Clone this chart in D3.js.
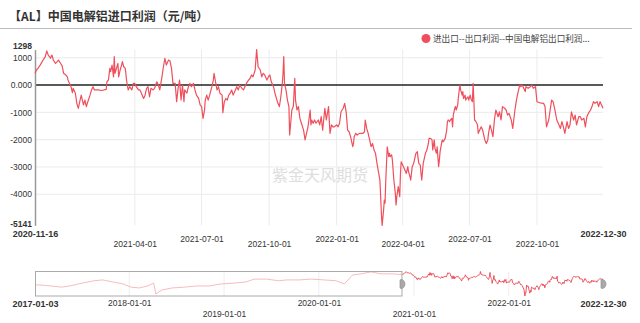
<!DOCTYPE html>
<html>
<head>
<meta charset="utf-8">
<script src="https://cdn.jsdelivr.net/npm/d3@7/dist/d3.min.js"></script>
<style>
  html, body { margin: 0; padding: 0; background: #fff; }
  svg { display: block; }
  .lab { font-family: "Liberation Sans", Arial, sans-serif; fill: #333; }
  .cjk { font-family: "Noto Sans CJK SC", sans-serif; }
</style>
</head>
<body>
<svg id="chart" width="640" height="323"></svg>
<script>
// main series: 2020-11-16 .. 2022-12-30 (yuan/ton)
var dates = [
  "2020-11-16","2020-11-18","2020-11-20","2020-11-23","2020-11-25","2020-11-27","2020-11-30","2020-12-02","2020-12-04","2020-12-07",
  "2020-12-09","2020-12-11","2020-12-14","2020-12-16","2020-12-18","2020-12-21","2020-12-23","2020-12-25","2020-12-28","2020-12-30",
  "2020-12-31","2021-01-04","2021-01-06","2021-01-07","2021-01-10","2021-01-12","2021-01-14","2021-01-16","2021-01-18","2021-01-21",
  "2021-01-23","2021-01-25","2021-01-27","2021-01-30","2021-02-01","2021-02-03","2021-02-05","2021-02-10","2021-02-15","2021-02-21",
  "2021-02-22","2021-02-24","2021-02-26","2021-02-27","2021-03-01","2021-03-03","2021-03-04","2021-03-05","2021-03-07","2021-03-09",
  "2021-03-10","2021-03-12","2021-03-14","2021-03-15","2021-03-17","2021-03-19","2021-03-21","2021-03-23","2021-03-25","2021-03-28",
  "2021-03-30","2021-04-01","2021-04-03","2021-04-06","2021-04-08","2021-04-10","2021-04-13","2021-04-15","2021-04-17","2021-04-19",
  "2021-04-21","2021-04-23","2021-04-26","2021-04-28","2021-05-01","2021-05-03","2021-05-05","2021-05-08","2021-05-10","2021-05-12",
  "2021-05-14","2021-05-17","2021-05-19","2021-05-21","2021-05-23","2021-05-26","2021-05-28","2021-05-30","2021-06-01","2021-06-03",
  "2021-06-05","2021-06-07","2021-06-08","2021-06-11","2021-06-13","2021-06-15","2021-06-17","2021-06-20","2021-06-22","2021-06-24",
  "2021-06-27","2021-06-29","2021-07-01","2021-07-03","2021-07-05","2021-07-06","2021-07-08","2021-07-10","2021-07-12","2021-07-15",
  "2021-07-17","2021-07-18","2021-07-20","2021-07-22","2021-07-24","2021-07-26","2021-07-29","2021-07-30","2021-08-01","2021-08-03",
  "2021-08-05","2021-08-07","2021-08-09","2021-08-11","2021-08-13","2021-08-16","2021-08-18","2021-08-20","2021-08-22","2021-08-25",
  "2021-08-27","2021-08-29","2021-08-31","2021-09-03","2021-09-05","2021-09-07","2021-09-09","2021-09-12","2021-09-14","2021-09-16",
  "2021-09-19","2021-09-21","2021-09-23","2021-09-25","2021-09-28","2021-09-30","2021-10-02","2021-10-04","2021-10-07","2021-10-09",
  "2021-10-11","2021-10-13","2021-10-15","2021-10-17","2021-10-19","2021-10-20","2021-10-21","2021-10-22","2021-10-24","2021-10-26",
  "2021-10-28","2021-10-29","2021-11-01","2021-11-03","2021-11-05","2021-11-06","2021-11-08","2021-11-10","2021-11-12","2021-11-14",
  "2021-11-17","2021-11-19","2021-11-21","2021-11-23","2021-11-26","2021-11-27","2021-11-28","2021-11-30","2021-12-02","2021-12-04",
  "2021-12-07","2021-12-09","2021-12-11","2021-12-13","2021-12-16","2021-12-18","2021-12-21","2021-12-23","2021-12-25","2021-12-27",
  "2021-12-29","2022-01-01","2022-01-03","2022-01-05","2022-01-07","2022-01-10","2022-01-12","2022-01-14","2022-01-16","2022-01-18",
  "2022-01-20","2022-01-23","2022-01-24","2022-01-25","2022-01-27","2022-01-29","2022-02-01","2022-02-06","2022-02-08","2022-02-09",
  "2022-02-11","2022-02-13","2022-02-15","2022-02-17","2022-02-19","2022-02-21","2022-02-23","2022-02-25","2022-03-01","2022-03-03",
  "2022-03-04","2022-03-06","2022-03-07","2022-03-08","2022-03-09","2022-03-11","2022-03-13","2022-03-14","2022-03-15","2022-03-17",
  "2022-03-18","2022-03-20","2022-03-22","2022-03-23","2022-03-24","2022-03-26","2022-03-28","2022-03-29","2022-03-30","2022-04-01",
  "2022-04-03","2022-04-04","2022-04-06","2022-04-08","2022-04-09","2022-04-11","2022-04-12","2022-04-14","2022-04-16","2022-04-17",
  "2022-04-19","2022-04-21","2022-04-22","2022-04-23","2022-04-25","2022-04-26","2022-04-27","2022-04-29","2022-04-30","2022-05-02",
  "2022-05-04","2022-05-06","2022-05-07","2022-05-09","2022-05-11","2022-05-12","2022-05-14","2022-05-15","2022-05-17","2022-05-18",
  "2022-05-20","2022-05-21","2022-05-22","2022-05-24","2022-05-25","2022-05-26","2022-05-28","2022-05-29","2022-05-31","2022-06-01",
  "2022-06-02","2022-06-04","2022-06-05","2022-06-07","2022-06-08","2022-06-09","2022-06-11","2022-06-12","2022-06-13","2022-06-15",
  "2022-06-16","2022-06-18","2022-06-19","2022-06-21","2022-06-22","2022-06-23","2022-06-25","2022-06-26","2022-06-27","2022-06-29",
  "2022-06-30","2022-07-02","2022-07-03","2022-07-05","2022-07-06","2022-07-07","2022-07-08","2022-07-10","2022-07-12","2022-07-13",
  "2022-07-15","2022-07-17","2022-07-19","2022-07-21","2022-07-22","2022-07-24","2022-07-26","2022-07-27","2022-07-29","2022-07-31",
  "2022-08-02","2022-08-04","2022-08-06","2022-08-09","2022-08-11","2022-08-13","2022-08-15","2022-08-18","2022-08-20","2022-08-22",
  "2022-08-24","2022-08-27","2022-08-29","2022-09-01","2022-09-03","2022-09-05","2022-09-07","2022-09-08","2022-09-09","2022-09-11",
  "2022-09-13","2022-09-15","2022-09-16","2022-09-19","2022-09-22","2022-09-24","2022-09-26","2022-09-29","2022-10-01","2022-10-05",
  "2022-10-10","2022-10-12","2022-10-14","2022-10-17","2022-10-19","2022-10-21","2022-10-23","2022-10-26","2022-10-28","2022-10-30",
  "2022-11-02","2022-11-04","2022-11-06","2022-11-08","2022-11-11","2022-11-13","2022-11-15","2022-11-17","2022-11-20","2022-11-22",
  "2022-11-24","2022-11-27","2022-11-29","2022-12-01","2022-12-04","2022-12-06","2022-12-08","2022-12-10","2022-12-13","2022-12-15",
  "2022-12-17","2022-12-19","2022-12-22","2022-12-24","2022-12-26","2022-12-28","2022-12-30"
];
var profit = [
  430,550,610,730,820,915,1040,1250,1100,980,
  1100,915,790,850,915,790,700,430,370,300,
  180,-60,-280,-120,-300,-670,-855,-610,-370,-730,
  -550,-790,-610,-370,-180,-60,-180,-180,-200,-160,
  120,180,610,490,730,300,1040,430,610,790,
  300,550,730,855,670,610,120,-180,-60,-180,
  60,60,-60,-180,-180,-300,-490,-370,-120,-60,
  -430,-120,-180,-120,120,0,-180,300,670,980,
  730,915,880,610,60,60,-610,-120,180,-550,
  0,-610,-180,-300,-60,60,-60,60,-180,-370,
  -490,-730,-790,-1220,-920,-550,-370,-550,-370,-60,
  180,430,120,-180,-60,-300,-370,-1010,-610,-490,
  -550,-370,-300,-180,-370,-180,-60,-180,0,-120,
  -180,-60,60,180,240,370,300,550,1298,670,
  550,300,430,370,180,300,370,120,-60,-300,
  -490,-670,-790,-430,60,430,1040,60,-180,-550,
  -790,-1830,-915,-790,245,-550,-915,-790,-1220,-1400,
  -1650,-2010,-1770,-1530,-915,-1460,-1280,-1400,-1280,-1400,
  -1280,-1460,-1160,-1650,-850,-1280,-790,-1770,-1460,-1530,
  -1530,-1460,-1530,-1400,-980,-850,-670,-980,-1650,-1710,
  -1890,-2260,-2140,-1890,-1770,-1830,-1770,-1770,-1710,-1280,
  -1590,-1770,-2010,-2260,-2140,-2380,-2500,-2870,-3480,-4700,
  -5141,-4580,-4210,-4330,-3480,-2260,-2620,-2500,-2620,-2560,
  -2750,-3480,-3970,-4390,-4090,-3720,-4090,-3240,-2810,-2930,
  -3050,-3110,-3240,-2990,-3170,-3360,-3480,-2990,-2870,-2750,
  -2500,-2440,-2680,-2870,-2930,-3240,-3480,-2870,-2750,-2500,
  -2380,-2140,-1950,-1950,-2010,-2380,-2010,-2320,-2500,-2260,
  -2990,-2750,-2440,-2140,-2010,-2080,-2010,-1950,-1650,-1340,
  -1280,-1340,-1280,-1220,-1530,-1100,-850,-790,-915,-730,
  -430,0,-180,-370,-240,-490,-370,-550,-490,-430,
  -550,-370,-490,-610,60,-550,-1280,-1340,-1460,-1770,
  -1650,-1530,-1650,-1890,-2010,-2140,-2010,-1770,-1465,-1650,
  -1890,-1280,-915,-1160,-980,-1280,-790,-850,-915,-1100,
  -1040,-1280,-1590,-915,-550,-300,-60,0,-60,0,
  -120,-240,-60,-120,-60,0,-120,-60,-610,-650,
  -670,-790,-1530,-1280,-915,-550,-610,-980,-1280,-1400,
  -1590,-1340,-1530,-1770,-1340,-1590,-1460,-980,-1280,-1100,
  -1460,-1160,-1160,-1280,-1220,-1530,-1160,-1040,-915,-790,
  -610,-670,-610,-790,-610,-730,-850
];

// earlier history, only shown in the zoom slider
var histDates = [
  "2017-01-03","2017-02-20","2017-04-15","2017-05-17","2017-07-03","2017-08-19","2017-09-20","2017-10-29","2017-12-08","2018-01-08",
  "2018-02-09","2018-03-12","2018-04-05","2018-04-13","2018-05-07","2018-06-15","2018-08-01","2018-09-18","2018-11-04","2018-12-21",
  "2019-02-07","2019-03-26","2019-04-27","2019-06-13","2019-07-30","2019-08-31","2019-10-17","2019-12-04","2020-01-20","2020-03-07",
  "2020-04-08","2020-05-09","2020-06-10","2020-07-20","2020-08-28","2020-10-14","2020-11-13"
];
var histProfit = [
  -2180,-2400,-2815,-2499,-1759,-1126,-915,-1443,-1970,-2815,
  -3026,-2499,-1759,-4607,-3554,-3026,-2815,-2499,-2499,-1970,
  -1759,-1443,-703,-703,-1126,-915,-915,-703,-915,-1126,
  -1970,353,670,1195,670,670,500
];

var xTicks = ["2020-11-16","2021-04-01","2021-07-01","2021-10-01","2022-01-01","2022-04-01","2022-07-01","2022-10-01","2022-12-30"];
var yTicks = [1298, 1000, 0, -1000, -2000, -3000, -4000, -5141];
var navTicks = ["2017-01-03","2018-01-01","2019-01-01","2020-01-01","2021-01-01","2022-01-01","2022-12-30"];

var title = "【AL】中国电解铝进口利润（元/吨）";
var seriesName = "进出口--出口利润--中国电解铝出口利润...";
var watermark = "紫金天风期货";

var RED = "#ef4f5b";
var parse = d3.timeParse("%Y-%m-%d");
var data = dates.map(function (d, i) { return { date: parse(d), v: profit[i] }; });
var hist = histDates.map(function (d, i) { return { date: parse(d), v: histProfit[i] }; });

var svg = d3.select("#chart");

// title + separator
svg.append("text").attr("class", "cjk")
   .attr("x", 9).attr("y", 21)
   .attr("font-size", 12).attr("font-weight", "bold").attr("fill", "#333")
   .text(title);
svg.append("line").attr("x1", 0).attr("x2", 632).attr("y1", 28.5).attr("y2", 28.5)
   .attr("stroke", "#bbb").attr("stroke-width", 1);

// legend
svg.append("circle").attr("cx", 426).attr("cy", 38.5).attr("r", 4.5).attr("fill", RED);
svg.append("text").attr("class", "cjk")
   .attr("x", 433).attr("y", 41.5).attr("font-size", 8.6).attr("fill", "#444")
   .text(seriesName);

// scales
var x = d3.scaleTime().domain([parse("2020-11-16"), parse("2022-12-30")]).range([35, 603]);
var y = d3.scaleLinear().domain([-5141, 1298]).range([225.4, 49.6]);

// grid
svg.append("g").selectAll("line").data(yTicks.filter(function (t) { return t !== 0 && t !== 1298 && t !== -5141; }))
   .enter().append("line")
   .attr("x1", 35).attr("x2", 603)
   .attr("y1", function (d) { return y(d); }).attr("y2", function (d) { return y(d); })
   .attr("stroke", "#ebebeb").attr("stroke-width", 1);
svg.append("g").selectAll("line").data(xTicks.slice(1, -1))
   .enter().append("line")
   .attr("x1", function (d) { return x(parse(d)); }).attr("x2", function (d) { return x(parse(d)); })
   .attr("y1", 49.6).attr("y2", 225.4)
   .attr("stroke", "#ebebeb").attr("stroke-width", 1);

// watermark
svg.append("text").attr("class", "cjk")
   .attr("x", 320).attr("y", 181).attr("text-anchor", "middle")
   .attr("font-size", 16).attr("fill", "#dedede")
   .text(watermark);

// zero line
svg.append("line").attr("x1", 35).attr("x2", 603).attr("y1", y(0)).attr("y2", y(0))
   .attr("stroke", "#222").attr("stroke-width", 1.5);

// y axis (min / max labels nudged apart from their neighbours)
var yAxis = svg.append("g").attr("transform", "translate(35,0)")
   .call(d3.axisLeft(y).tickValues(yTicks).tickSize(0).tickPadding(3)
     .tickFormat(function (d) { return d === 0 ? "0.000" : String(d); }));
yAxis.select(".domain").attr("stroke", "#999").attr("stroke-width", 1.5);
yAxis.selectAll("text").attr("class", "lab").attr("font-size", 8.5)
   .attr("font-weight", function (d) { return (d === 1298 || d === -5141) ? "bold" : "normal"; })
   .attr("dy", function (d) { return d === 1298 ? "-0.1em" : d === -5141 ? "0.15em" : "0.32em"; });

// x axis with staggered labels
var xAxis = svg.append("g").attr("transform", "translate(0,225.4)")
   .call(d3.axisBottom(x).tickValues(xTicks.map(parse)).tickSize(0).tickPadding(0)
     .tickFormat(d3.timeFormat("%Y-%m-%d")));
xAxis.select(".domain").remove();
xAxis.selectAll("text").attr("class", "lab")
   .attr("dy", "0.35em")
   .attr("font-size", function (d, i) { return (i === 0 || i === xTicks.length - 1) ? 9 : 8.5; })
   .attr("font-weight", function (d, i) { return (i === 0 || i === xTicks.length - 1) ? "bold" : "normal"; })
   .attr("y", function (d, i) {
     if (i === 0 || i === xTicks.length - 1) return 8;
     return i % 2 === 1 ? 19 : 13.5;
   });

// series line
var line = d3.line().x(function (d) { return x(d.date); }).y(function (d) { return y(d.v); });
svg.append("path").datum(data).attr("d", line)
   .attr("fill", "none").attr("stroke", RED).attr("stroke-width", 1.2).attr("stroke-linejoin", "round");

// ---- zoom slider ----
var nx = d3.scaleTime().domain([parse("2017-01-03"), parse("2022-12-30")]).range([35, 603]);
var ny = d3.scaleLinear().domain([-5141, 1298]).range([296, 271.5]);

svg.append("g").selectAll("line").data(navTicks.slice(1, -1))
   .enter().append("line")
   .attr("x1", function (d) { return nx(parse(d)); }).attr("x2", function (d) { return nx(parse(d)); })
   .attr("y1", 271.5).attr("y2", 296)
   .attr("stroke", "#eee").attr("stroke-width", 1);

var nline = d3.line().x(function (d) { return nx(d.date); }).y(function (d) { return ny(d.v); });
svg.append("path").datum(hist.concat([data[0]])).attr("d", nline)
   .attr("fill", "none").attr("stroke", "#f7bcc1").attr("stroke-width", 1);
svg.append("path").datum(data).attr("d", nline)
   .attr("fill", "none").attr("stroke", RED).attr("stroke-width", 1);

var selStart = nx(parse("2020-11-16"));
svg.append("rect").attr("x", 35.5).attr("y", 271.5).attr("width", selStart - 35.5).attr("height", 24.5)
   .attr("fill", "none").attr("stroke", "#aaa").attr("stroke-width", 1);

// handles
[selStart, nx(parse("2022-12-30"))].forEach(function (hx) {
  svg.append("path")
     .attr("d", "M" + (hx - 1) + ",279.5 a4,4.5 0 0 1 0,9 a1,1 0 0 1 -1,-1 v-7 a1,1 0 0 1 1,-1 z")
     .attr("fill", "#aaa").attr("stroke", "#888").attr("stroke-width", 0.6);
});

var navAxis = svg.append("g").attr("transform", "translate(0,296)")
   .call(d3.axisBottom(nx).tickValues(navTicks.map(parse)).tickSize(0).tickPadding(0)
     .tickFormat(d3.timeFormat("%Y-%m-%d")));
navAxis.select(".domain").remove();
navAxis.selectAll("text").attr("class", "lab")
   .attr("dy", "0.35em")
   .attr("font-size", function (d, i) { return (i === 0 || i === navTicks.length - 1) ? 9 : 8.5; })
   .attr("font-weight", function (d, i) { return (i === 0 || i === navTicks.length - 1) ? "bold" : "normal"; })
   .attr("y", function (d, i) {
     if (i === 0 || i === navTicks.length - 1) return 7.5;
     return i % 2 === 1 ? 7.5 : 18.5;
   });
</script>
</body>
</html>
